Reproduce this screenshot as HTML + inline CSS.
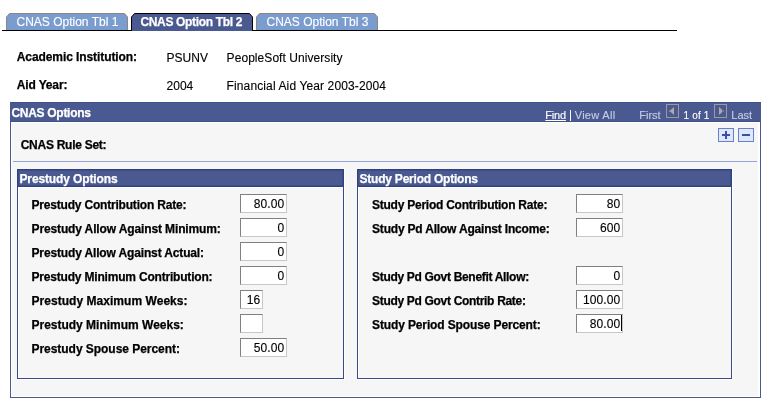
<!DOCTYPE html>
<html><head><meta charset="utf-8"><style>
html,body{margin:0;padding:0;background:#fff;}
body{will-change:transform;width:770px;height:403px;position:relative;overflow:hidden;font-family:"Liberation Sans",sans-serif;font-size:12px;color:#000;}
.a{position:absolute;white-space:nowrap;-webkit-text-stroke:0.12px currentColor;}
.b{font-weight:bold;-webkit-text-stroke:0.25px currentColor;}
.tab{position:absolute;top:13px;height:17px;box-sizing:border-box;border:1px solid #8c8782;border-bottom:none;border-radius:5px 5px 0 0;background:#7b9ccf;color:#fff;}
.tab.act{height:18px;background:#4a5a90;border-color:#10183a;}
.inp{position:absolute;box-sizing:border-box;height:19px;border:1px solid #c6c6c6;border-top-color:#808080;border-left-color:#808080;background:#fff;}
.w{color:#fff;}
</style></head><body>
<div class="a" style="left:2px;top:30px;width:675px;height:1px;background:#000;"></div>
<svg class="a" style="left:6px;top:13px" width="122" height="17" viewBox="0 0 122 17"><path d="M0.5 17 L0.5 4 L3.5 0.5 L118.5 0.5 L121.5 4 L121.5 17 Z" fill="#7b9ccf"/><path d="M0.5 17 L0.5 4 L3.5 0.5 L118.5 0.5 L121.5 4 L121.5 17" fill="none" stroke="#8c8680" stroke-width="1"/></svg>
<svg class="a" style="left:131px;top:13px" width="122" height="18" viewBox="0 0 122 18"><path d="M0.5 18 L0.5 4 L3.5 0.5 L118.5 0.5 L121.5 4 L121.5 18 Z" fill="#4a5a90"/><path d="M0.5 18 L0.5 4 L3.5 0.5 L118.5 0.5 L121.5 4 L121.5 18" fill="none" stroke="#000" stroke-width="1"/></svg>
<svg class="a" style="left:256px;top:13px" width="122" height="17" viewBox="0 0 122 17"><path d="M0.5 17 L0.5 4 L3.5 0.5 L118.5 0.5 L121.5 4 L121.5 17 Z" fill="#7b9ccf"/><path d="M0.5 17 L0.5 4 L3.5 0.5 L118.5 0.5 L121.5 4 L121.5 17" fill="none" stroke="#8c8680" stroke-width="1"/></svg>
<div class="a w" style="left:16.5px;top:15px;">CNAS Option Tbl 1</div>
<div class="a w b" style="left:140.4px;top:15px;letter-spacing:-0.330px;">CNAS Option Tbl 2</div>
<div class="a w" style="left:266.5px;top:15px;">CNAS Option Tbl 3</div>
<div class="a b" style="left:16.8px;top:50px;letter-spacing:-0.090px;">Academic Institution:</div>
<div class="a " style="left:166.6px;top:51px;">PSUNV</div>
<div class="a " style="left:226.6px;top:51px;letter-spacing:0.060px;">PeopleSoft University</div>
<div class="a b" style="left:16.8px;top:78px;letter-spacing:-0.150px;">Aid Year:</div>
<div class="a " style="left:166.6px;top:79px;">2004</div>
<div class="a " style="left:226.6px;top:79px;letter-spacing:0.120px;">Financial Aid Year 2003-2004</div>
<div class="a" style="left:10px;top:102px;width:751px;height:296px;background:#f6f6f6;box-sizing:border-box;border:1px solid #4a5a90;"></div>
<div class="a" style="left:11px;top:122px;width:749px;height:1px;background:#fff;"></div>
<div class="a" style="left:11px;top:122px;width:1px;height:275px;background:#fff;"></div>
<div class="a" style="left:11px;top:396px;width:749px;height:1px;background:#fff;"></div>
<div class="a" style="left:758px;top:122px;width:2px;height:275px;background:#fff;"></div>
<div class="a" style="left:10px;top:102px;width:751px;height:20px;background:#4a5a90;"></div>
<div class="a" style="left:10px;top:102px;width:751px;height:1px;background:#40508a;"></div>
<div class="a" style="left:10px;top:121px;width:751px;height:1px;background:#40508a;"></div>
<div class="a w b" style="left:11.5px;top:106px;letter-spacing:-0.300px;">CNAS Options</div>
<div class="a w" style="left:545.3px;top:109px;letter-spacing:-0.200px;font-size:11px;"><span style="text-decoration:underline">Find</span></div>
<div class="a" style="left:570px;top:110px;width:1px;height:11px;background:#fff;"></div>
<div class="a " style="left:574.7px;top:109px;letter-spacing:0.300px;font-size:11px;color:#c5cde6;">View All</div>
<div class="a " style="left:639.3px;top:109px;font-size:11px;color:#c5cde6;">First</div>
<div class="a w" style="left:683.6px;top:110px;font-size:10px;word-spacing:0.4px;">1 of 1</div>
<div class="a " style="left:731.3px;top:109px;font-size:11px;color:#c5cde6;">Last</div>
<svg class="a" style="left:666px;top:104px" width="13" height="14" viewBox="0 0 13 14"><rect x="0.5" y="0.5" width="12" height="13" fill="none" stroke="#9a9a9a"/><path d="M8 3 L8 11 L3.5 7 Z M3 6.5h2v1h-2z" fill="#aaa"/></svg>
<svg class="a" style="left:714px;top:104px" width="13" height="14" viewBox="0 0 13 14"><rect x="0.5" y="0.5" width="12" height="13" fill="none" stroke="#9a9a9a"/><path d="M5 3 L5 11 L9.5 7 Z M8 6.5h2v1h-2z" fill="#aaa"/></svg>
<svg class="a" style="left:718px;top:128px" width="16" height="14" viewBox="0 0 16 14"><rect x="0.5" y="0.5" width="15" height="13" fill="#dde8fc" stroke="#6a80c8"/><rect x="4" y="6" width="8" height="2" fill="#3b50a4"/><rect x="7" y="3" width="2" height="8" fill="#3b50a4"/></svg>
<svg class="a" style="left:738px;top:128px" width="16" height="14" viewBox="0 0 16 14"><rect x="0.5" y="0.5" width="15" height="13" fill="#dde8fc" stroke="#6a80c8"/><rect x="4" y="6" width="8" height="2" fill="#3b50a4"/></svg>
<div class="a b" style="left:20.7px;top:138px;letter-spacing:-0.270px;">CNAS Rule Set:</div>
<div class="a" style="left:13px;top:161px;width:744px;height:1px;background:#95a3d6;"></div>
<div class="a" style="left:17px;top:169px;width:327px;height:210px;background:#f6f6f6;box-sizing:border-box;border:1px solid #3a4a86;"></div>
<div class="a" style="left:17px;top:169px;width:327px;height:18px;background:#4a5a90;box-sizing:border-box;border:1px solid #2f417e;"></div>
<div class="a" style="left:18px;top:170px;width:325px;height:16px;background:#4a5a90;box-sizing:border-box;border:1px solid #3c4d88;"></div>
<div class="a" style="left:18px;top:187px;width:325px;height:1px;background:#fff;"></div>
<div class="a" style="left:18px;top:187px;width:1px;height:191px;background:#fff;"></div>
<div class="a" style="left:17px;top:379px;width:328px;height:1px;background:#fdfdfd;"></div>
<div class="a" style="left:344px;top:169px;width:1px;height:211px;background:#fdfdfd;"></div>
<div class="a w b" style="left:19.5px;top:172px;letter-spacing:-0.130px;">Prestudy Options</div>
<div class="a" style="left:357px;top:169px;width:375px;height:210px;background:#f6f6f6;box-sizing:border-box;border:1px solid #3a4a86;"></div>
<div class="a" style="left:357px;top:169px;width:375px;height:18px;background:#4a5a90;box-sizing:border-box;border:1px solid #2f417e;"></div>
<div class="a" style="left:358px;top:170px;width:373px;height:16px;background:#4a5a90;box-sizing:border-box;border:1px solid #3c4d88;"></div>
<div class="a" style="left:358px;top:187px;width:373px;height:1px;background:#fff;"></div>
<div class="a" style="left:358px;top:187px;width:1px;height:191px;background:#fff;"></div>
<div class="a" style="left:357px;top:379px;width:376px;height:1px;background:#fdfdfd;"></div>
<div class="a" style="left:732px;top:169px;width:1px;height:211px;background:#fdfdfd;"></div>
<div class="a w b" style="left:359.5px;top:172px;letter-spacing:-0.220px;">Study Period Options</div>
<div class="a b" style="left:31.5px;top:198px;letter-spacing:-0.196px;">Prestudy Contribution Rate:</div>
<div class="inp" style="left:240px;top:194px;width:47px;"></div>
<div class="a" style="right:485.7px;top:197px;letter-spacing:0.12px;">80.00</div>
<div class="a b" style="left:31.5px;top:222px;letter-spacing:-0.126px;">Prestudy Allow Against Minimum:</div>
<div class="inp" style="left:240px;top:218px;width:47px;"></div>
<div class="a" style="right:485.7px;top:221px;letter-spacing:0.12px;">0</div>
<div class="a b" style="left:31.5px;top:246px;letter-spacing:-0.143px;">Prestudy Allow Against Actual:</div>
<div class="inp" style="left:240px;top:242px;width:47px;"></div>
<div class="a" style="right:485.7px;top:245px;letter-spacing:0.12px;">0</div>
<div class="a b" style="left:31.5px;top:270px;letter-spacing:-0.193px;">Prestudy Minimum Contribution:</div>
<div class="inp" style="left:240px;top:266px;width:47px;"></div>
<div class="a" style="right:485.7px;top:269px;letter-spacing:0.12px;">0</div>
<div class="a b" style="left:31.5px;top:294px;letter-spacing:0.039px;">Prestudy Maximum Weeks:</div>
<div class="inp" style="left:240px;top:290px;width:23px;"></div>
<div class="a" style="right:509.7px;top:293px;letter-spacing:0.12px;">16</div>
<div class="a b" style="left:31.5px;top:318px;letter-spacing:-0.009px;">Prestudy Minimum Weeks:</div>
<div class="inp" style="left:240px;top:314px;width:23px;"></div>
<div class="a b" style="left:31.5px;top:342px;letter-spacing:-0.042px;">Prestudy Spouse Percent:</div>
<div class="inp" style="left:240px;top:338px;width:47px;"></div>
<div class="a" style="right:485.7px;top:341px;letter-spacing:0.12px;">50.00</div>
<div class="a b" style="left:372px;top:198px;letter-spacing:-0.242px;">Study Period Contribution Rate:</div>
<div class="inp" style="left:576px;top:194px;width:47px;"></div>
<div class="a" style="right:149.7px;top:197px;letter-spacing:0.12px;">80</div>
<div class="a b" style="left:372px;top:222px;letter-spacing:-0.187px;">Study Pd Allow Against Income:</div>
<div class="inp" style="left:576px;top:218px;width:47px;"></div>
<div class="a" style="right:149.7px;top:221px;letter-spacing:0.12px;">600</div>
<div class="a b" style="left:372px;top:270px;letter-spacing:-0.311px;">Study Pd Govt Benefit Allow:</div>
<div class="inp" style="left:576px;top:266px;width:47px;"></div>
<div class="a" style="right:149.7px;top:269px;letter-spacing:0.12px;">0</div>
<div class="a b" style="left:372px;top:294px;letter-spacing:-0.311px;">Study Pd Govt Contrib Rate:</div>
<div class="inp" style="left:576px;top:290px;width:47px;"></div>
<div class="a" style="right:149.7px;top:293px;letter-spacing:0.12px;">100.00</div>
<div class="a b" style="left:372px;top:318px;letter-spacing:-0.125px;">Study Period Spouse Percent:</div>
<div class="inp" style="left:576px;top:314px;width:47px;"></div>
<div class="a" style="right:149.7px;top:317px;letter-spacing:0.12px;">80.00</div>
<div class="a" style="left:621px;top:315px;width:1px;height:16px;background:#000;"></div>
</body></html>
